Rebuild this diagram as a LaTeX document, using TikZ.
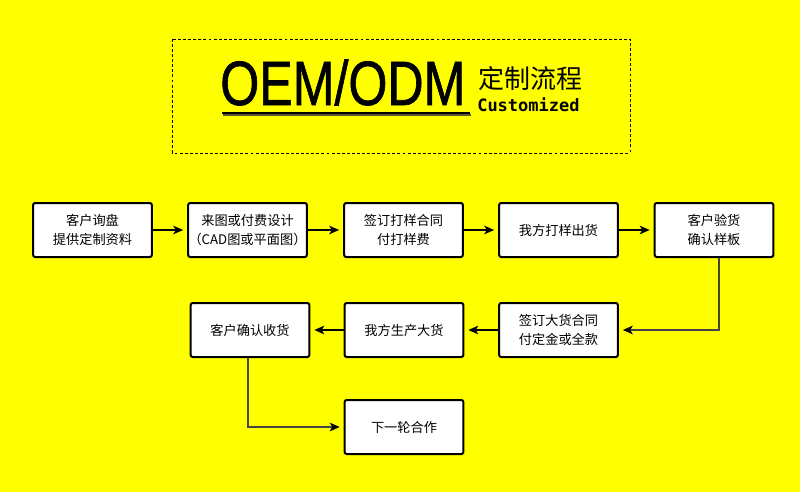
\documentclass[tikz,border=0pt]{standalone}
\usepackage{fontspec}
\usepackage{graphicx}
\setmainfont{Liberation Sans}
\newfontfamily\cjk{Noto Sans CJK SC}
\newfontfamily\monof{DejaVu Sans Mono}
\newfontfamily\titlef[FakeBold=1.2]{Liberation Sans}
\usetikzlibrary{arrows.meta}
\definecolor{bgyellow}{HTML}{FFFF00}
\definecolor{connGray}{HTML}{444444}
\begin{document}
\begin{tikzpicture}[x=0.75pt,y=-0.75pt,
  stepbox/.style={draw=black, line width=1.5pt, fill=white, rounded corners=1.5pt,
    minimum width=89pt, minimum height=40.5pt, inner sep=0pt, align=center,
    font=\cjk\fontsize{9.9}{14.2}\selectfont},
  arr/.style={-{Stealth[length=7.5pt,width=6.5pt,inset=2pt]}, line width=1.1pt, shorten >=3pt, black},
  elbow/.style={-{Stealth[length=7.5pt,width=6.5pt,inset=2pt,color=black]}, line width=1.1pt, shorten >=3pt, connGray}]
\fill[bgyellow] (0,0) rectangle (800,492);
\useasboundingbox (0,0) rectangle (800,492);
% title frame
\draw[black, line width=0.7pt, dash pattern=on 2.2pt off 1.6pt] (172,39) rectangle (630,153);
\node[anchor=base west, inner sep=0pt, font=\titlef\fontsize{47}{50}\selectfont] (oem) at (220,105) {\scalebox{0.8}[1]{OEM/ODM}};
\fill[black!45!olive] (223,114.5) rectangle (471,116.5);
\fill[black] (222,112.2) rectangle (470,114.4);
\node[anchor=base west, inner sep=0pt, font=\cjk\fontsize{19.5}{22}\selectfont] (zh) at (478,89) {定制流程};
\node[anchor=base west, inner sep=0pt, font=\monof\bfseries\fontsize{12.75}{14}\selectfont] (cu) at (477,112) {Customized};
% row 1
\node[stepbox] (b1) at (92.5,230) {客户询盘\\提供定制资料};
\node[stepbox] (b2) at (247.5,230) {来图或付费设计\\（CAD图或平面图）};
\node[stepbox] (b3) at (403.5,230) {签订打样合同\\付打样费};
\node[stepbox] (b4) at (558.5,230) {我方打样出货};
\node[stepbox] (b5) at (714,230) {客户验货\\确认样板};
% row 2
\node[stepbox] (c3) at (558.5,330) {签订大货合同\\付定金或全款};
\node[stepbox] (c2) at (404,330) {我方生产大货};
\node[stepbox] (c1) at (250,330) {客户确认收货};
\node[stepbox] (d) at (404,427) {下一轮合作};
% connectors
\draw[arr] (b1) -- (b2);
\draw[arr] (b2) -- (b3);
\draw[arr] (b3) -- (b4);
\draw[arr] (b4) -- (b5);
\coordinate (k5) at ([xshift=3.75pt]b5.south);
\draw[elbow] (k5) |- (c3.east);
\draw[arr] (c3) -- (c2);
\draw[arr] (c2) -- (c1);
\coordinate (k1) at ([xshift=-1.5pt]c1.south);
\draw[elbow] (k1) |- (d.west);
\end{tikzpicture}
\end{document}
